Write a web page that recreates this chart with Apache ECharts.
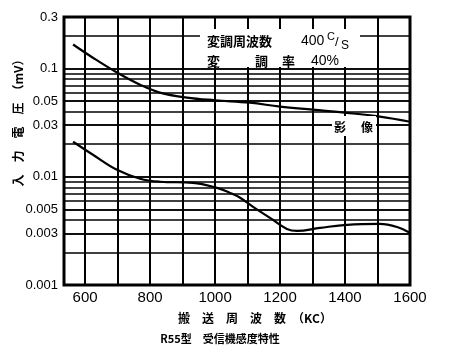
<!DOCTYPE html>
<html>
<head>
<meta charset="utf-8">
<script src="https://cdn.jsdelivr.net/npm/echarts@6/dist/echarts.min.js"></script>
<style>html,body{margin:0;padding:0;background:#fff}#c{width:450px;height:355px}</style>
</head>
<body>
<div id="c"></div>
<script>
// ---- data ----
const freqUpper = [563, 624, 698, 769, 830, 913, 1000, 1107, 1200, 1301, 1406, 1507, 1600];
const voltUpper = [0.167, 0.126, 0.092, 0.071, 0.060, 0.054, 0.051, 0.0484, 0.0445, 0.0417, 0.039, 0.036, 0.0323];
const freqLower = [563, 624, 698, 769, 830, 932, 1006, 1046, 1077, 1117, 1169, 1221, 1252, 1323, 1406, 1507, 1560, 1600];
const voltLower = [0.0211, 0.016, 0.0116, 0.0096, 0.0090, 0.0088, 0.0079, 0.0071, 0.0064, 0.00527, 0.00417, 0.0033, 0.00316, 0.00337, 0.0036, 0.00367, 0.00344, 0.00303];
const xTickValues = [600, 800, 1000, 1200, 1400, 1600];
const xGridValues = [600, 700, 800, 900, 1000, 1100, 1200, 1300, 1400, 1500];
const yGridValues = [0.002, 0.003, 0.004, 0.005, 0.006, 0.007, 0.008, 0.009, 0.01, 0.02, 0.03, 0.04, 0.05, 0.06, 0.07, 0.08, 0.09, 0.1, 0.2];
const yTickValues = [0.001, 0.003, 0.005, 0.01, 0.03, 0.05, 0.1, 0.3];
const yTickLabels = ['0.001', '0.003', '0.005', '0.01', '0.03', '0.05', '0.1', '0.3'];

const chart = echarts.init(document.getElementById('c'), null, {renderer: 'canvas'});
const ink = '#000';
const numFont = 'Liberation Sans';
const cjkFont = 'Noto Sans CJK JP';

const markData = [];
xGridValues.forEach(v => markData.push({xAxis: v, lineStyle: {width: 2}}));
yGridValues.forEach(v => markData.push({yAxis: v, lineStyle: {width: 1.5}}));
yTickValues.forEach((v, i) => markData.push({
  yAxis: v,
  lineStyle: {width: 1.5},
  label: {show: true, position: 'start', distance: 6, formatter: yTickLabels[i],
          color: ink, fontSize: 13, fontFamily: numFont}
}));

const option = {
  animation: false,
  backgroundColor: '#fff',
  grid: {left: 64, right: 40, top: 17, bottom: 70, show: true, borderColor: ink, borderWidth: 3, backgroundColor: 'transparent'},
  xAxis: {
    type: 'value', min: 535, max: 1600,
    axisLine: {show: false}, axisTick: {show: false}, splitLine: {show: false},
    axisLabel: {customValues: xTickValues, formatter: v => String(v), color: ink, fontSize: 15, fontFamily: numFont, margin: 5}
  },
  yAxis: {
    type: 'log', logBase: 10, min: 0.001, max: 0.3,
    axisLine: {show: false}, axisTick: {show: false}, splitLine: {show: false},
    axisLabel: {show: false}
  },
  series: [
    {
      type: 'line', name: 'upper', smooth: 0.4, showSymbol: false, silent: true,
      data: freqUpper.map((f, i) => [f, voltUpper[i]]),
      lineStyle: {color: ink, width: 2.2},
      markLine: {
        silent: true, symbol: ['none', 'none'], animation: false, precision: 8,
        lineStyle: {color: ink, type: 'solid', width: 1.5},
        label: {show: false},
        emphasis: {disabled: true},
        data: markData
      }
    },
    {
      type: 'line', name: 'lower', smooth: 0.4, showSymbol: false, silent: true,
      data: freqLower.map((f, i) => [f, voltLower[i]]),
      lineStyle: {color: ink, width: 2.2}
    }
  ],
  graphic: [
    {type: 'rect', z: 100, shape: {x: 200, y: 29, width: 160, height: 38}, style: {fill: '#fff'}},
    {type: 'text', z: 101, x: 207, y: 41, style: {text: '変調周波数', fontSize: 13, fontWeight: 'bold', fontFamily: cjkFont, fill: ink, textVerticalAlign: 'middle'}},
    {type: 'text', z: 101, x: 301, y: 41, style: {text: '400', fontSize: 14, fontFamily: numFont, fill: ink, textVerticalAlign: 'middle'}},
    {type: 'text', z: 101, x: 327, y: 37, style: {text: 'C', fontSize: 11, fontFamily: numFont, fill: ink, textVerticalAlign: 'middle'}},
    {type: 'text', z: 101, x: 335, y: 42, style: {text: '/', fontSize: 13, fontFamily: numFont, fill: ink, textVerticalAlign: 'middle'}},
    {type: 'text', z: 101, x: 341, y: 46, style: {text: 'S', fontSize: 12, fontFamily: numFont, fill: ink, textVerticalAlign: 'middle'}},
    {type: 'text', z: 101, x: 207, y: 61, style: {text: '変', fontSize: 13, fontWeight: 'bold', fontFamily: cjkFont, fill: ink, textVerticalAlign: 'middle'}},
    {type: 'text', z: 101, x: 255, y: 61, style: {text: '調', fontSize: 13, fontWeight: 'bold', fontFamily: cjkFont, fill: ink, textVerticalAlign: 'middle'}},
    {type: 'text', z: 101, x: 282, y: 61, style: {text: '率', fontSize: 13, fontWeight: 'bold', fontFamily: cjkFont, fill: ink, textVerticalAlign: 'middle'}},
    {type: 'text', z: 101, x: 311, y: 61, style: {text: '40%', fontSize: 14, fontFamily: numFont, fill: ink, textVerticalAlign: 'middle'}},
    {type: 'rect', z: 100, shape: {x: 332, y: 116, width: 44, height: 20}, style: {fill: '#fff'}},
    {type: 'text', z: 101, x: 334, y: 127, style: {text: '影', fontSize: 12, fontWeight: 'bold', fontFamily: cjkFont, fill: ink, textVerticalAlign: 'middle'}},
    {type: 'text', z: 101, x: 361, y: 127, style: {text: '像', fontSize: 12, fontWeight: 'bold', fontFamily: cjkFont, fill: ink, textVerticalAlign: 'middle'}},
    {type: 'text', z: 101, x: 18, y: 120, rotation: Math.PI / 2, style: {text: '入　力　電　圧　（mV）', fontSize: 12, fontWeight: 'bold', fontFamily: cjkFont, fill: ink, textAlign: 'center', textVerticalAlign: 'middle'}},
    {type: 'text', z: 101, x: 255, y: 318, style: {text: '搬　送　周　波　数　（KC）', fontSize: 12, fontWeight: 'bold', fontFamily: cjkFont, fill: ink, textAlign: 'center', textVerticalAlign: 'middle'}},
    {type: 'text', z: 101, x: 220, y: 339, style: {text: 'R55型　受信機感度特性', fontSize: 11, fontWeight: 'bold', fontFamily: cjkFont, fill: ink, textAlign: 'center', textVerticalAlign: 'middle'}}
  ]
};
chart.setOption(option);
</script>
</body>
</html>
